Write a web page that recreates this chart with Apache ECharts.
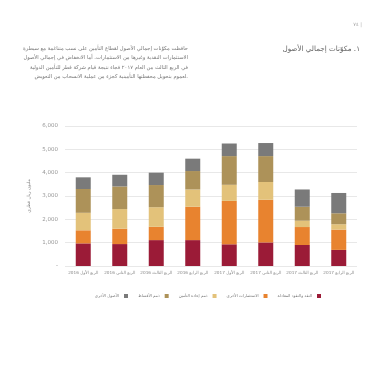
<!DOCTYPE html>
<html><head><meta charset="utf-8">
<script src="https://cdn.jsdelivr.net/npm/echarts@6/dist/echarts.min.js"></script>
<style>html,body{margin:0;padding:0;background:#fff}#c{width:380px;height:380px}</style>
</head><body><div id="c"></div>
<script>
var categories = ['الربع الأول 2016','الربع الثاني 2016','الربع الثالث 2016','الربع الرابع 2016','الربع الأول 2017','الربع الثاني 2017','الربع الثالث 2017','الربع الرابع 2017'];
var seriesNames = ['النقد والنقود المعادلة','الاستثمارات الأخرى','ذمم إعادة التأمين','ذمم الأقساط','الأصول الأخرى'];
var cash = [970, 940, 1110, 1110, 930, 1010, 900, 690];
var otherInvestments = [560, 660, 570, 1430, 1860, 1830, 770, 870];
var reinsurance = [750, 840, 840, 740, 690, 760, 270, 230];
var premiums = [1020, 970, 950, 790, 1230, 1110, 600, 470];
var otherAssets = [500, 500, 530, 530, 540, 560, 740, 870];
var yTicks = [0, 1000, 2000, 3000, 4000, 5000, 6000];
var colors = ['#9b1b37','#e8832f','#e3c27a','#ad9259','#7a7a7a'];
var paragraph = [
 'حافظت مكوّنات إجمالي الأصول لقطاع التأمين على نسب متناغمة مع سيطرة',
 'الاستثمارات النقدية وغيرها من الاستثمارات. أما الانخفاض في إجمالي الأصول',
 'في الربع الثالث من العام ٢٠١٧ فجاء نتيجة قيام شركة قطر للتأمين الدولية',
 'لعموم بتحويل محفظتها التأمينية كجزء من عملية الانسحاب من التعويض.'
];
var font = 'DejaVu Sans';
var chart = echarts.init(document.getElementById('c'), null, {renderer:'canvas'});
var seriesData = [cash, otherInvestments, reinsurance, premiums, otherAssets];
var graphics = [
 {type:'text', right: 18, top: 22, style:{text:'٧٤ |', fontSize:5, fill:'#aaa', fontFamily:font}},
 {type:'text', right: 20, top: 46, style:{text:'١. مكوّنات إجمالي الأصول', fontSize:7.2, fill:'#666', fontFamily:font}}
];
paragraph.forEach(function(t,i){
 graphics.push({type:'text', right: 192, top: 46 + i*9.5, style:{text:t, fontSize:5.2, fill:'#777', fontFamily:font, textAlign:'right'}});
});
chart.setOption({
 animation:false,
 textStyle:{fontFamily:font},
 color: colors,
 graphic: graphics,
 grid:{left:65, right:23, top:126, bottom:114},
 legend:{
  data: seriesNames.slice().reverse(),
  right: 54, top: 289, align:'right', itemWidth:4, itemHeight:4, itemGap:10, icon:'rect',
  textStyle:{fontSize:4, color:'#777', padding:[0,0,0,0]}
 },
 xAxis:{
  type:'category', data: categories,
  axisLine:{show:false}, axisTick:{show:false},
  axisLabel:{fontSize:4.2, color:'#888', margin:5, interval:0}
 },
 yAxis:{
  type:'value', min: yTicks[0], max: yTicks[yTicks.length-1], interval:1000,
  name:'مليون ريال قطري', nameLocation:'middle', nameGap:29, nameRotate:90,
  nameTextStyle:{fontSize:4.5, color:'#888'},
  axisLine:{show:false}, axisTick:{show:false},
  axisLabel:{fontSize:5.5, color:'#999', margin:7, formatter:function(v){return v===0?'-':v.toLocaleString('en-US');}},
  splitLine:{lineStyle:{color:'#e8e8e8', width:1}}
 },
 series: seriesNames.map(function(n,i){
  return {name:n, type:'bar', stack:'a', data: seriesData[i], barWidth:15, itemStyle:{color:colors[i]}};
 })
});
</script></body></html>
